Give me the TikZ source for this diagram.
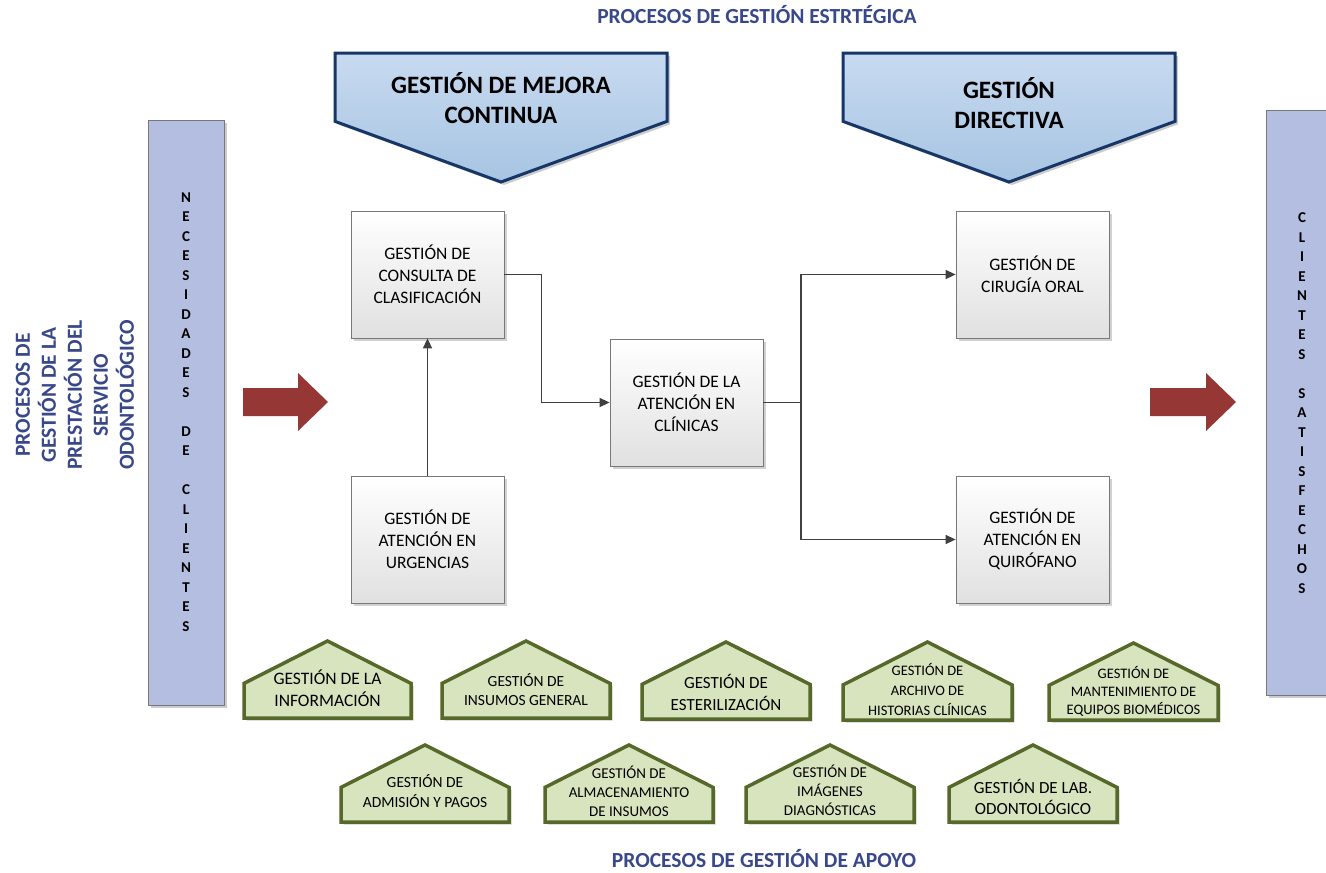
\documentclass[tikz,border=0pt]{standalone}
\usepackage{fontspec}
\setmainfont{Carlito}
\usetikzlibrary{arrows.meta,shadows,calc}
\definecolor{titleblue}{RGB}{56,72,138}
\definecolor{barfill}{RGB}{180,190,224}
\definecolor{barline}{RGB}{120,120,120}
\definecolor{redarrow}{RGB}{149,55,53}
\definecolor{pentop}{RGB}{200,218,240}
\definecolor{penbot}{RGB}{166,196,226}
\definecolor{penline}{RGB}{22,54,104}
\definecolor{housefill}{RGB}{215,228,189}
\definecolor{houseline}{RGB}{86,104,42}
\definecolor{conncol}{RGB}{64,64,64}
\tikzset{
  procbox/.style={draw=barline, line width=0.8pt, top color=white, bottom color=black!12,
    minimum width=153pt, minimum height=127pt, align=center, inner sep=0pt,
    font=\fontsize{17.5}{22}\selectfont,
    drop shadow={shadow xshift=2.5pt, shadow yshift=-2.5pt, fill=black, opacity=0.18}},
  conn/.style={draw=conncol, line width=1.5pt, -{Triangle[length=10pt,width=9pt]}},
  connplain/.style={draw=conncol, line width=1.5pt},
  bar/.style={draw=barline, line width=0.8pt, fill=barfill,
    drop shadow={shadow xshift=2.5pt, shadow yshift=-2.5pt, fill=black, opacity=0.2}},
  pent/.style={draw=penline, line width=3pt, top color=pentop, bottom color=penbot, line join=miter,
    drop shadow={shadow xshift=3pt, shadow yshift=-3pt, fill=black, opacity=0.2}},
  house/.style={draw=houseline, line width=3.5pt, fill=housefill, line join=miter,
    drop shadow={shadow xshift=2.5pt, shadow yshift=-2.5pt, fill=black, opacity=0.2}},
  redarr/.style={fill=redarrow, draw=none},
  titletext/.style={text=titleblue, font=\bfseries\fontsize{21.5}{26}\selectfont, align=center},
  pentext/.style={font=\bfseries\fontsize{25}{29.5}\selectfont, align=center},
  lettertext/.style={font=\bfseries\fontsize{15}{19.5}\selectfont, align=center},
}
\newcommand\casa[4]{% left x, right x, peak y, bottom y
  \path[house] (#1,{#3+0.55*(#4-#3)}) -- ({(#1+#2)/2},#3) -- (#2,{#3+0.55*(#4-#3)}) -- (#2,#4) -- (#1,#4) -- cycle;}
\newcommand\punta[4]{% left x, right x, top y, point y
  \path[pent] (#1,#3) -- (#2,#3) -- (#2,{#3+0.53*(#4-#3)}) -- ({(#1+#2)/2},#4) -- (#1,{#3+0.53*(#4-#3)}) -- cycle;}
\begin{document}
\begin{tikzpicture}[x=1pt,y=-1pt]
\clip (0,0) rectangle (1326,873);
\fill[white] (0,0) rectangle (1326,873);

% titles
\node[titletext] (ttop) at (757,15) {PROCESOS DE GESTIÓN ESTRTÉGICA};
\node[titletext] (tbot) at (764,859) {PROCESOS DE GESTIÓN DE APOYO};
\node[titletext, rotate=90] (tleft) at (75,395) {PROCESOS DE\\GESTIÓN DE LA\\PRESTACIÓN DEL\\SERVICIO\\ODONTOLÓGICO};

% strategic pentagons
\punta{335}{667}{53}{182}
\node[pentext] (mejora) at (501,98) {GESTIÓN DE MEJORA\\CONTINUA};
\punta{843}{1175}{53}{182}
\node[pentext] (directiva) at (1009,103) {GESTIÓN\\DIRECTIVA};

% side bars
\path[bar] (148,120) rectangle (224,705);
\node[lettertext] (nec) at (186,412) {N\\E\\C\\E\\S\\I\\D\\A\\D\\E\\S\\~\\D\\E\\~\\C\\L\\I\\E\\N\\T\\E\\S};
\path[bar] (1266,110) rectangle (1340,695);
\node[lettertext] (cli) at (1302,403) {C\\L\\I\\E\\N\\T\\E\\S\\~\\S\\A\\T\\I\\S\\F\\E\\C\\H\\O\\S};

% red arrows
\path[redarr] (243,388) -- (298,388) -- (298,373) -- (328,402) -- (298,431) -- (298,416) -- (243,416) -- cycle;
\path[redarr] (1150,388) -- (1206,388) -- (1206,373) -- (1236,402) -- (1206,431) -- (1206,416) -- (1150,416) -- cycle;

% process boxes
\node[procbox] (A) at (427.5,274.5) {GESTIÓN DE\\CONSULTA DE\\CLASIFICACIÓN};
\node[procbox] (B) at (427.5,539.5) {GESTIÓN DE\\ATENCIÓN EN\\URGENCIAS};
\node[procbox] (C) at (686.5,402.5) {GESTIÓN DE LA\\ATENCIÓN EN\\CLÍNICAS};
\node[procbox] (D) at (1032.5,274.5) {GESTIÓN DE\\CIRUGÍA ORAL};
\node[procbox] (E) at (1032.5,539.5) {GESTIÓN DE\\ATENCIÓN EN\\QUIRÓFANO};

% connectors
\draw[conn] (B.north) -- (A.south);
\draw[conn] (A.east) -- ++(37,0) |- (C.west);
\coordinate (J) at (801,402.5);
\draw[connplain] (C.east) -- (J);
\draw[conn] (J) |- (D.west);
\draw[conn] (J) |- (E.west);

% support houses row 1
\casa{244}{411}{641}{718}
\node[align=center, font=\fontsize{17.5}{22}\selectfont] (h1) at (327.5,688) {GESTIÓN DE LA\\INFORMACIÓN};
\casa{442}{610}{641}{718}
\node[align=center, font=\fontsize{15.5}{19}\selectfont] (h2) at (526,690) {GESTIÓN DE\\INSUMOS GENERAL};
\casa{642}{810}{642}{719}
\node[align=center, font=\fontsize{17}{22}\selectfont] (h3) at (726,692) {GESTIÓN DE\\ESTERILIZACIÓN};
\casa{843}{1012}{642}{720}
\node[align=center, font=\fontsize{14.5}{20}\selectfont] (h4) at (927.5,689) {GESTIÓN DE\\ARCHIVO DE\\HISTORIAS CLÍNICAS};
\casa{1049}{1218}{643}{720}
\node[align=center, font=\fontsize{14.5}{18}\selectfont] (h5) at (1133.5,691) {GESTIÓN DE\\MANTENIMIENTO DE\\EQUIPOS BIOMÉDICOS};

% support houses row 2
\casa{341}{509}{745}{822}
\node[align=center, font=\fontsize{15.5}{20}\selectfont] (h6) at (425,791) {GESTIÓN DE\\ADMISIÓN Y PAGOS};
\casa{545}{713}{745}{822}
\node[align=center, font=\fontsize{15}{19}\selectfont] (h7) at (629,791) {GESTIÓN DE\\ALMACENAMIENTO\\DE INSUMOS};
\casa{746}{914}{745}{822}
\node[align=center, font=\fontsize{15}{19}\selectfont] (h8) at (830,790) {GESTIÓN DE\\IMÁGENES\\DIAGNÓSTICAS};
\casa{949}{1117}{745}{822}
\node[align=center, font=\fontsize{17}{21}\selectfont] (h9) at (1033,797) {GESTIÓN DE LAB.\\ODONTOLÓGICO};
\end{tikzpicture}
\end{document}
